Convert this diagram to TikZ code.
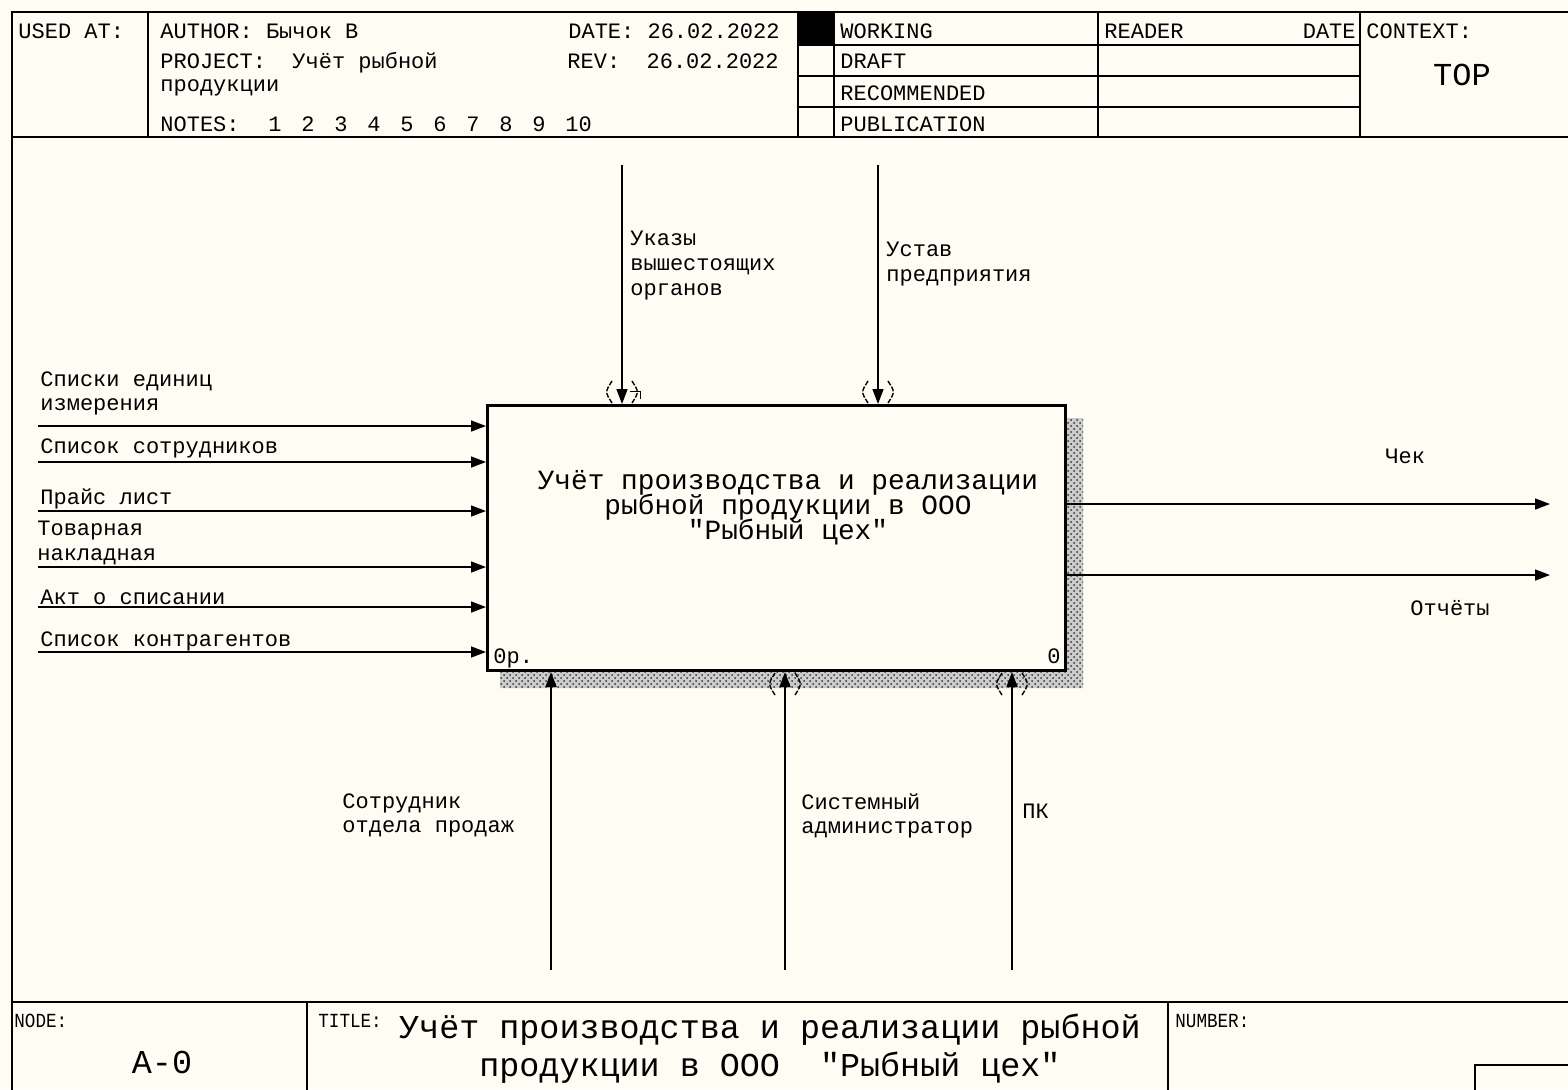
\documentclass[tikz,border=0pt]{standalone}
\usepackage{fontspec}
\setmainfont{Liberation Mono}
\newfontfamily\narrowfont[FakeStretch=0.88]{Liberation Mono}
\usetikzlibrary{arrows.meta,patterns}
\definecolor{paper}{RGB}{255,252,243}

\begin{document}
\setlength{\lineskiplimit}{-20pt}
\begin{tikzpicture}[>={Triangle[length=7.5pt,width=5.5pt]}, x=0.5pt, y=-0.5pt,
    lbl/.style={inner sep=0pt, align=left, anchor=north west,
        font=\fontsize{11}{12.4}\selectfont},
    hdr/.style={inner sep=0pt, anchor=base west, font=\fontsize{11}{12.4}\selectfont},
    tinylbl/.style={inner sep=0pt, anchor=base west, font=\narrowfont\fontsize{10}{12}\selectfont},
    bigtxt/.style={inner sep=0pt, align=center, font=\fontsize{16.7}{19}\selectfont},
    rule/.style={line width=0.8pt},
    flow/.style={->, line width=0.75pt},
    tunnel/.pic={\draw[line width=0.7pt, dash pattern=on 2.5pt off 0.8pt]
        (-10,-23) .. controls (-17,-12) .. (-10,-1) (10,-23) .. controls (17,-12) .. (10,-1);}]
\fill[paper] (0,0) rectangle (1568,1089);
\useasboundingbox (0,0) rectangle (1568,1089);

% frame and header
\draw[rule] (1580,12) -- (12,12) -- (12,1100);
\draw[rule] (12,137) -- (1580,137);
\draw[rule] (12,1002) -- (1580,1002);
\foreach \x in {148,798,834,1098,1360} \draw[rule] (\x,12) -- (\x,137);
\foreach \y in {45,76,107} \draw[rule] (798,\y) -- (1360,\y);
\fill (798,12) rectangle (834,45);
\draw[rule] (307,1002) -- (307,1100);
\draw[rule] (1168,1002) -- (1168,1100);
\draw[rule] (1475,1100) -- (1475,1065) -- (1580,1065);

\node[hdr] at (18,38) {USED AT:};
\node[hdr] at (160,38) {AUTHOR: Бычок В};
\node[hdr] at (160,68) {PROJECT:~~Учёт рыбной};
\node[hdr] at (160,91) {продукции};
\node[hdr] at (160,131) {NOTES:};
\foreach \n in {1,...,10} \node[hdr] at ({268+(\n-1)*33},131) {\n};
\node[hdr, anchor=base east] at (780,38) {DATE: 26.02.2022};
\node[hdr] at (567,68) {REV:~~26.02.2022};
\node[hdr] at (840,38) {WORKING};
\node[hdr] at (840,68) {DRAFT};
\node[hdr] at (840,100) {RECOMMENDED};
\node[hdr] at (840,131) {PUBLICATION};
\node[hdr] at (1104,38) {READER};
\node[hdr, anchor=base east] at (1356,38) {DATE};
\node[hdr] at (1366,38) {CONTEXT:};
\node[bigtxt, font=\fontsize{16}{19}\selectfont] (ctx) at (1462,75) {TOP};

% function box
\fill[gray!40] (1066,418) rectangle (1083,688) (500,671) rectangle (1083,688);
\fill[pattern=crosshatch dots, pattern color=black!80] (1066,418) rectangle (1083,688) (500,671) rectangle (1083,688);
\node[draw, line width=1.5pt, fill=paper, minimum width=289pt, minimum height=132.5pt, inner sep=0pt] (fn) at (776.5,538) {};
\node[bigtxt, font=\fontsize{13.9}{12.5}\selectfont, anchor=north] (fntext) at (788,470)
    {Учёт производства и реализации\\рыбной продукции в ООО\\\textquotedbl Рыбный цех\textquotedbl};
\node[hdr] at (493,663) {0р.};
\node[hdr, anchor=base east] at (1061,663) {0};

% inputs
\foreach \y [count=\i] in {426,462,511,567,607,652} {
    \coordinate (i\i) at (38,\y);
    \draw[flow] (i\i) -- (i\i -| fn.west);
}
\node[lbl] at (40,371) {Списки единиц\\измерения};
\node[hdr] at (40,453) {Список сотрудников};
\node[hdr] at (40,504) {Прайс лист};
\node[lbl] at (37,521) {Товарная\\накладная};
\node[hdr] at (40,604) {Акт о списании};
\node[hdr] at (40,646) {Список контрагентов};

% controls
\coordinate (c1) at (622,165);
\coordinate (c2) at (878,165);
\draw[flow] (c1) -- (c1 |- fn.north);
\draw[flow] (c2) -- (c2 |- fn.north);
\pic at (c1 |- fn.north) {tunnel};
\pic at (c2 |- fn.north) {tunnel};
\draw[line width=0.5pt] (630,391) -- (640,391) -- (640,399);
\node[lbl] at (630,231) {Указы\\вышестоящих\\органов};
\node[lbl] at (886,242) {Устав\\предприятия};

% mechanisms
\coordinate (m1) at (551,970);
\coordinate (m2) at (785,970);
\coordinate (m3) at (1012,970);
\draw[flow] (m1) -- (m1 |- fn.south);
\draw[flow] (m2) -- (m2 |- fn.south);
\draw[flow] (m3) -- (m3 |- fn.south);
\pic[yscale=-1] at (m2 |- fn.south) {tunnel};
\pic[yscale=-1] at (m3 |- fn.south) {tunnel};
\node[lbl] at (342,793) {Сотрудник\\отдела продаж};
\node[lbl] at (801,793) {Системный\\администратор};
\node[hdr] at (1022,818) {ПК};

% outputs
\coordinate (o1) at (1550,504);
\coordinate (o2) at (1550,575);
\draw[flow] (o1 -| fn.east) -- (o1);
\draw[flow] (o2 -| fn.east) -- (o2);
\node[hdr] at (1385,463) {Чек};
\node[hdr] at (1410,615) {Отчёты};

% footer
\node[tinylbl] at (14,1027) {NODE:};
\node[bigtxt] (nodeid) at (162,1062) {A-0};
\node[tinylbl] at (318,1027) {TITLE:};
\node[bigtxt, anchor=north] (title) at (770,1014)
    {Учёт производства и реализации рыбной\\продукции в ООО~~\textquotedbl Рыбный цех\textquotedbl};
\node[tinylbl] at (1175,1027) {NUMBER:};
\end{tikzpicture}
\end{document}
